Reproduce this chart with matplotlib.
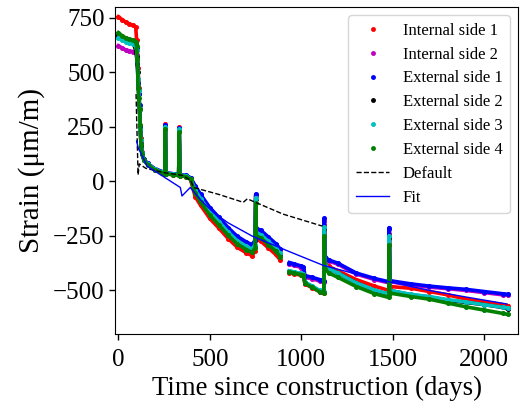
import numpy as np
import matplotlib
matplotlib.use("Agg")
import matplotlib.pyplot as plt
from matplotlib.lines import Line2D

plt.rcParams['font.family'] = ['Liberation Serif', 'DejaVu Serif']
plt.rcParams['mathtext.fontset'] = 'stix'

nan = np.nan
days = [0, 20, 40, 60, 80, 95,
        100, 104, 108, 112, 116, 120, 124,
        130, 140, 160, 200, 240, 254, 257, 260, 300, 330, 333, 336, 370, 395,
        420, 450, 500, 550, 600, 650, 700, 730, 748, 751, 754, 780, 820, 860, 885,
        900,
        935, 960, 1000, 1012, 1020, 1060, 1100, 1123, 1126, 1129, 1150, 1200,
        1300, 1400, 1478, 1481, 1484, 1600, 1700, 1800, 1900, 2000, 2100, 2130]

internal_1 = [755, 742, 730, 722, 715, 708,
              650, 600, 520, 430, 330, 260, 200,
              135, 100, 78, 52, 40, 36, 262, 36, 30, 27, 248, 26, 22, 8,
              -70, -110, -170, -215, -262, -302, -328, -340, -320, -70, -265, -275, -305, -335, -360,
              nan,
              -418, -424, -430, -432, -470, -488, -505, -512, -200, -380, -390, -410,
              -450, -480, -500, -240, -482, -490, -505, -520, -540, -552, -565, -570]

internal_2 = [622, 612, 603, 598, 595, 592,
              580, 540, 470, 400, 330, 250, 180,
              130, 100, 80, 56, 43, 38, 255, 38, 34, 31, 240, 30, 26, 15,
              -25, -65, -125, -170, -217, -257, -283, -295, -275, -65, -222, -232, -260, -290, -315,
              nan,
              -380, -385, -395, -398, -440, -447, -457, -460, -180, -350, -365, -380,
              -425, -450, -465, -220, -460, -475, -485, -492, -500, -510, -520, -522]

external_1 = [672, 660, 652, 648, 645, 630,
              610, 560, 450, 400, 350, 250, 170,
              128, 102, 82, 58, 45, 40, 258, 40, 35, 32, 244, 31, 27, 17,
              -20, -60, -120, -165, -212, -252, -278, -290, -270, -59, -215, -225, -255, -285, -310,
              nan,
              -372, -378, -388, -392, -432, -440, -450, -455, -170, -345, -360, -375,
              -420, -445, -460, -212, -455, -470, -480, -488, -495, -505, -515, -518]

external_2 = [665, 655, 648, 643, 640, 600,
              570, 540, 500, 420, 330, 240, 160,
              125, 98, 78, 54, 41, 37, 245, 37, 32, 29, 235, 28, 24, 12,
              -45, -85, -145, -190, -237, -277, -303, -315, -295, -80, -240, -250, -280, -310, -335,
              nan,
              -412, -417, -424, -427, -465, -482, -502, -507, -220, -385, -400, -420,
              -465, -500, -518, -260, -500, -520, -530, -545, -555, -565, -578, -585]

external_3 = [658, 648, 640, 636, 632, 620,
              600, 560, 470, 420, 330, 240, 190,
              130, 100, 80, 55, 42, 38, 250, 38, 33, 30, 238, 29, 25, 13,
              -40, -80, -140, -185, -232, -272, -298, -310, -290, -75, -235, -245, -275, -305, -330,
              nan,
              -410, -415, -422, -425, -462, -480, -500, -505, -210, -385, -400, -420,
              -465, -498, -516, -250, -500, -518, -528, -542, -553, -565, -577, -580]

external_4 = [682, 668, 658, 652, 648, 640,
              620, 560, 430, 380, 330, 260, 170,
              125, 97, 76, 52, 40, 35, 240, 35, 30, 27, 225, 26, 22, 10,
              -55, -95, -155, -200, -247, -287, -313, -325, -305, -100, -250, -260, -290, -320, -345,
              nan,
              -415, -420, -427, -430, -468, -486, -506, -510, -250, -400, -420, -440,
              -482, -515, -532, -290, -512, -528, -540, -558, -575, -590, -605, -610]

default_days = [97, 103, 108, 115, 150, 250, 350, 395, 412, 550, 683, 705, 900, 1115]
default_vals = [400, 200, 30, 80, 60, 40, 28, 5, -28, -60, -96, -80, -150, -205]

fit_days = [100, 110, 120, 157, 250, 339, 348, 393, 450, 519, 600, 732, 929, 1120,
            1300, 1468, 1700, 1900, 2124]
fit_vals = [185, 150, 135, 70, 20, -28, -67, -28, -85, -142, -190, -251, -320, -385,
            -425, -458, -500, -530, -562]

labels = ['Internal side 1', 'Internal side 2', 'External side 1',
          'External side 2', 'External side 3', 'External side 4']
series = [internal_1, internal_2, external_1, external_2, external_3, external_4]
colors = ['#ff0000', '#bf00bf', '#0000ff', '#000000', '#00bfbf', '#008000']

fig = plt.figure(figsize=(5.26, 4.03), dpi=100)
ax = fig.add_axes([0.219, 0.171, 0.766, 0.812])

for vals, c in zip(series, colors):
    ax.plot(days, vals, color=c, lw=2.6, marker='o', ms=2.6, zorder=2)

ax.plot(default_days, default_vals, color='black', ls='--', lw=1.0, zorder=3)
ax.plot(fit_days, fit_vals, color='#0000ff', lw=1.0, zorder=4)

ax.set_xlim(-17, 2185)
ax.set_ylim(-700, 800)
ax.set_xticks([0, 500, 1000, 1500, 2000])
ax.set_yticks([-500, -250, 0, 250, 500, 750])
ax.tick_params(labelsize=18, direction='out', length=4, width=1)
ax.tick_params(axis='x', pad=6.5)
ax.set_xlabel('Time since construction (days)', fontsize=19.3, labelpad=4)
ax.set_ylabel('Strain (μm/m)', fontsize=21, labelpad=6)

handles = [Line2D([], [], ls='none', marker='o', ms=2.5, color=c, markerfacecolor=c)
           for c in colors]
handles += [Line2D([], [], color='black', ls='--', lw=1.0),
            Line2D([], [], color='#0000ff', lw=1.0)]
ax.legend(handles, labels + ['Default', 'Fit'], loc='upper right', fontsize=12,
          labelspacing=0.47, borderpad=0.45, handlelength=2.0, framealpha=0.8)

fig.savefig('out.png', dpi=100)
